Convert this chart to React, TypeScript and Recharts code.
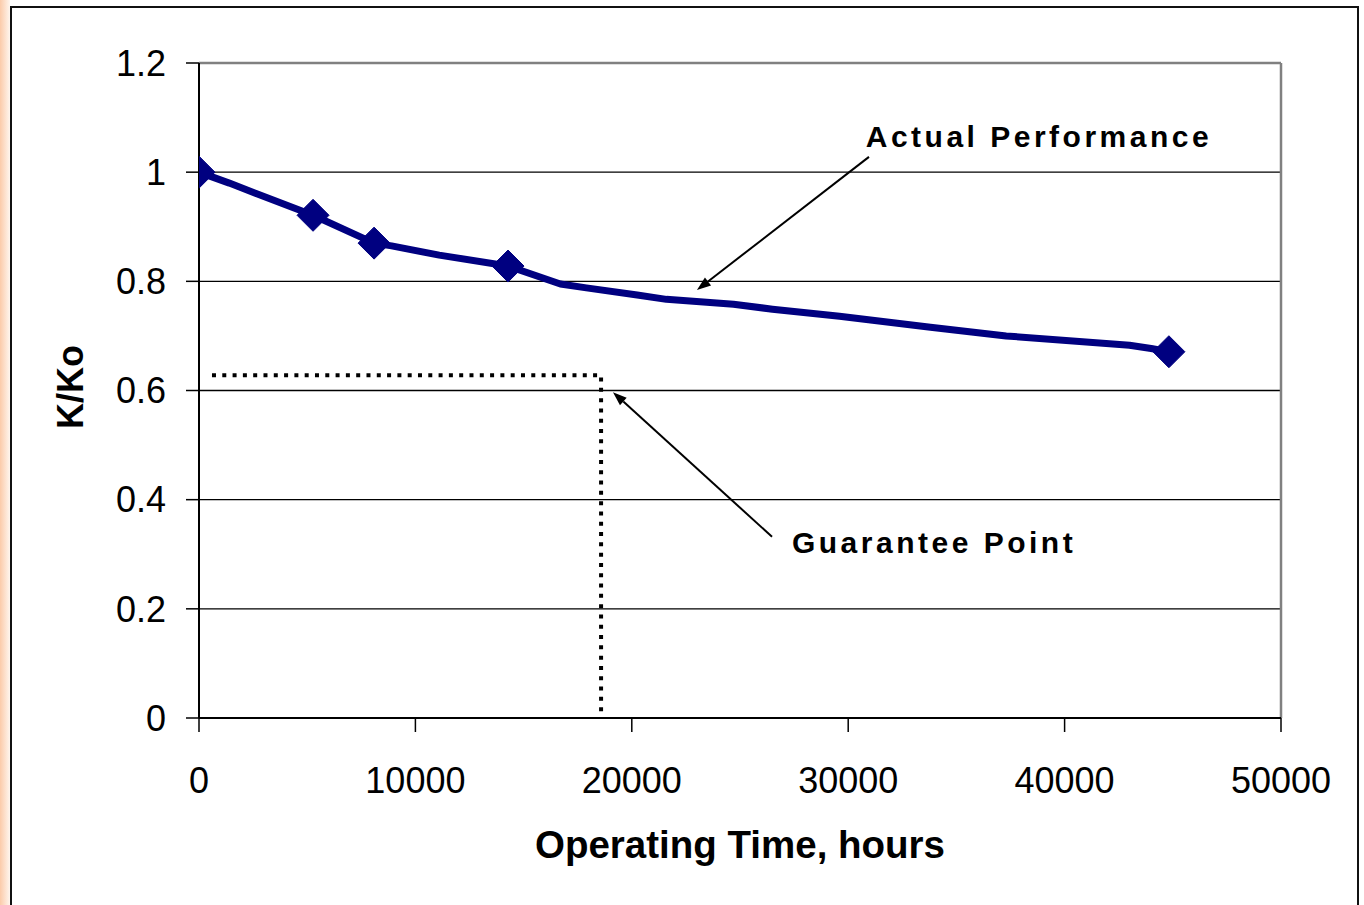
import React from 'react';
import {
  LineChart,
  Line,
  XAxis,
  YAxis,
  CartesianGrid,
  ReferenceLine,
  ReferenceDot,
  Customized,
} from 'recharts';

// ---- data ----
const hoursCurve = [0, 1400, 2700, 5270, 8090, 8900, 11100, 14280, 16700, 17900, 20250, 21600, 24700, 26500, 29600, 33800, 37300, 43000, 44000, 44820];
const kCurve = [1.0, 0.98, 0.96, 0.921, 0.87, 0.865, 0.848, 0.828, 0.795, 0.788, 0.775, 0.767, 0.758, 0.749, 0.736, 0.716, 0.7, 0.683, 0.677, 0.671];

const hoursMarkers = [0, 5270, 8090, 14280, 44820];
const kMarkers = [1.0, 0.921, 0.87, 0.828, 0.671];

const guaranteeHours = [600, 18580, 18580];
const guaranteeK = [0.628, 0.628, 0];

const xTicks = [0, 10000, 20000, 30000, 40000, 50000];
const yTicks = [0, 0.2, 0.4, 0.6, 0.8, 1, 1.2];

// annotation anchors (data space)
const actualArrow = [{ x: 30960, y: 1.028 }, { x: 23010, y: 0.784 }];
const guaranteeArrow = [{ x: 26480, y: 0.332 }, { x: 19130, y: 0.597 }];
const actualLabel = { x: 30810, y: 1.046, text: 'Actual Performance' };
const guaranteeLabel = { x: 27400, y: 0.303, text: 'Guarantee Point' };

const curveData = hoursCurve.map((x, i) => ({ x, y: kCurve[i] }));
const markerData = hoursMarkers.map((x, i) => ({ x, y: kMarkers[i] }));
const guaranteeData = guaranteeHours.map((x, i) => ({ x, y: guaranteeK[i] }));

const FONT = '"Liberation Sans", Arial, Helvetica, sans-serif';
const NAVY = '#000080';

const Diamond = (props: any) => {
  const { cx, cy } = props;
  if (cx == null || cy == null) return null;
  const r = 16;
  return (
    <polygon
      points={`${cx},${cy - r} ${cx + r},${cy} ${cx},${cy + r} ${cx - r},${cy}`}
      fill={NAVY}
      stroke={NAVY}
    />
  );
};

const Arrow = (props: any) => {
  const { x1, y1, x2, y2 } = props;
  if ([x1, y1, x2, y2].some((v) => v == null || isNaN(v))) return null;
  const ang = Math.atan2(y2 - y1, x2 - x1);
  const len = 14;
  const w = 5;
  const bx = x2 - len * Math.cos(ang);
  const by = y2 - len * Math.sin(ang);
  const px = -Math.sin(ang) * w;
  const py = Math.cos(ang) * w;
  return (
    <g>
      <line x1={x1} y1={y1} x2={bx} y2={by} stroke="#000" strokeWidth={2} />
      <polygon points={`${x2},${y2} ${bx + px},${by + py} ${bx - px},${by - py}`} fill="#000" />
    </g>
  );
};

const makeTextShape = (text: string) => (props: any) => {
  const { cx, cy } = props;
  if (cx == null || cy == null) return null;
  return (
    <text
      x={cx}
      y={cy}
      fontFamily={FONT}
      fontSize={30}
      fontWeight="bold"
      letterSpacing={3.5}
      fill="#000"
    >
      {text}
    </text>
  );
};

const AxisTitles = () => (
  <g>
    <text x={740} y={858} textAnchor="middle" fontFamily={FONT} fontSize={38.5} fontWeight="bold" fill="#000">
      Operating Time, hours
    </text>
    <text
      x={83}
      y={387}
      transform="rotate(-90 83 387)"
      textAnchor="middle"
      fontFamily={FONT}
      fontSize={36}
      fontWeight="bold"
      fill="#000"
    >
      K/Ko
    </text>
  </g>
);

export default function App() {
  return (
    <div
      style={{
        position: 'absolute',
        left: 0,
        top: 0,
        width: 1364,
        height: 905,
        background: '#fff',
        fontFamily: FONT,
        overflow: 'hidden',
      }}
    >
      <div
        style={{
          position: 'absolute',
          left: 0,
          top: 0,
          width: 10,
          height: 905,
          background: 'linear-gradient(to right, rgba(248,160,100,0.55), rgba(255,225,200,0.3))',
        }}
      />
      <div
        style={{
          position: 'absolute',
          left: 10,
          top: 6,
          width: 1345,
          height: 920,
          border: '2px solid #111',
        }}
      />
      <div style={{ position: 'absolute', left: 0, top: 0 }}>
        <LineChart width={1364} height={905} margin={{ top: 63, right: 83, bottom: 127, left: 99 }}>
          <CartesianGrid horizontal vertical={false} stroke="#000" strokeWidth={1.3} />
          <XAxis
            type="number"
            dataKey="x"
            domain={[0, 50000]}
            ticks={xTicks}
            interval={0}
            height={60}
            tickSize={14}
            tickMargin={35}
            axisLine={{ stroke: '#000', strokeWidth: 2 }}
            tickLine={{ stroke: '#000', strokeWidth: 1.5 }}
            tick={{ fill: '#000', fontSize: 36, fontFamily: FONT }}
            allowDataOverflow
          />
          <YAxis
            type="number"
            dataKey="y"
            domain={[0, 1.2]}
            ticks={yTicks}
            interval={0}
            width={100}
            tickSize={13}
            tickMargin={20}
            axisLine={{ stroke: '#000', strokeWidth: 2 }}
            tickLine={{ stroke: '#000', strokeWidth: 1.5 }}
            tick={{ fill: '#000', fontSize: 36, fontFamily: FONT }}
            allowDataOverflow
          />
          <ReferenceLine y={1.2} stroke="#808080" strokeWidth={2.5} />
          <ReferenceLine x={50000} stroke="#808080" strokeWidth={2.5} />
          <Line
            data={guaranteeData}
            dataKey="y"
            type="linear"
            stroke="#000"
            strokeWidth={4}
            strokeDasharray="4 6.3"
            dot={false}
            activeDot={false}
            isAnimationActive={false}
          />
          <Line
            data={curveData}
            dataKey="y"
            type="linear"
            stroke={NAVY}
            strokeWidth={7}
            strokeLinejoin="round"
            dot={false}
            activeDot={false}
            isAnimationActive={false}
          />
          <Line
            data={markerData}
            dataKey="y"
            type="linear"
            stroke="none"
            dot={<Diamond />}
            activeDot={false}
            isAnimationActive={false}
          />
          <ReferenceLine segment={actualArrow} shape={<Arrow />} />
          <ReferenceLine segment={guaranteeArrow} shape={<Arrow />} />
          <ReferenceDot x={actualLabel.x} y={actualLabel.y} r={0} shape={makeTextShape(actualLabel.text)} />
          <ReferenceDot x={guaranteeLabel.x} y={guaranteeLabel.y} r={0} shape={makeTextShape(guaranteeLabel.text)} />
          <Customized component={<AxisTitles />} />
        </LineChart>
      </div>
    </div>
  );
}
